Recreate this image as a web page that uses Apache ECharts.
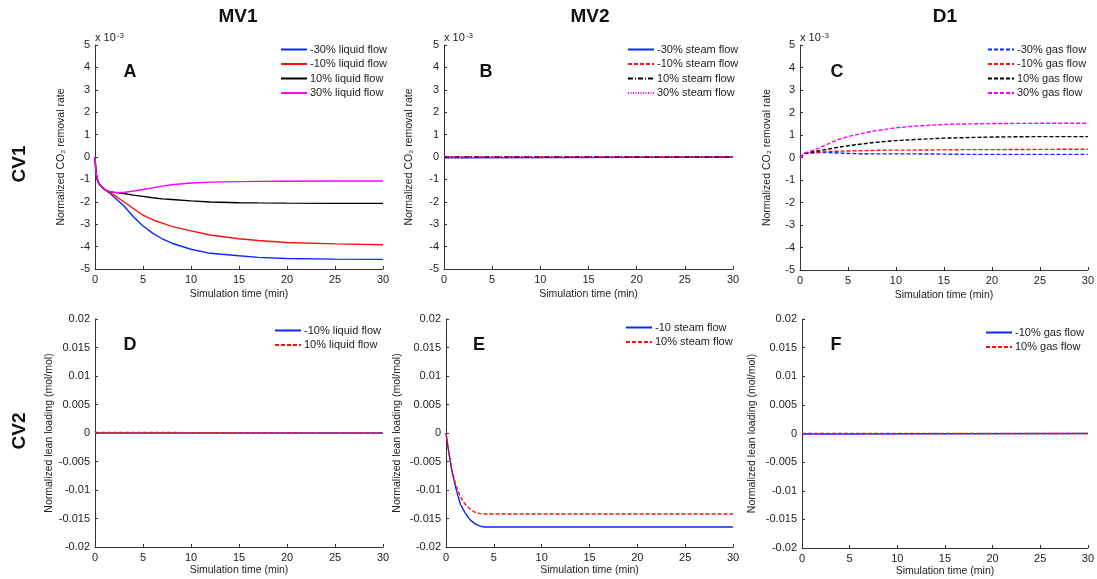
<!DOCTYPE html>
<html>
<head>
<meta charset="utf-8">
<script src="https://cdn.jsdelivr.net/npm/echarts@6/dist/echarts.min.js"></script>
<style>
  html, body { margin: 0; padding: 0; background: #fff; }
  #chart { width: 1097px; height: 579px; }
</style>
</head>
<body>
<div id="chart"></div>
<script>
  // panel A - MV1 / CV1 (x 10^-3)
  const timeA = [0, 0.1, 0.3, 0.5, 1, 1.5, 2, 3, 4, 5, 6, 7, 8, 10, 12, 15, 17, 20, 25, 30];
  const liqM30 = [0, -0.7, -1.1, -1.25, -1.45, -1.6, -1.8, -2.18, -2.67, -3.08, -3.4, -3.65, -3.85, -4.12, -4.3, -4.41, -4.48, -4.53, -4.56, -4.57];
  const liqM10 = [0, -0.7, -1.1, -1.25, -1.45, -1.58, -1.7, -2.0, -2.3, -2.6, -2.8, -2.95, -3.1, -3.3, -3.48, -3.65, -3.73, -3.82, -3.88, -3.92];
  const liqP10 = [0, -0.7, -1.1, -1.25, -1.45, -1.55, -1.58, -1.63, -1.7, -1.76, -1.82, -1.87, -1.9, -1.96, -2.01, -2.04, -2.05, -2.06, -2.07, -2.07];
  const liqP30 = [0, -0.7, -1.1, -1.25, -1.45, -1.55, -1.58, -1.58, -1.52, -1.45, -1.38, -1.3, -1.24, -1.16, -1.12, -1.1, -1.09, -1.08, -1.07, -1.07];

  // panel B - MV2 / CV1
  const timeB = [0, 3, 3.1, 30];
  const stmM30 = [-0.04, -0.04, 0, 0];
  const stmM10 = [0, 0, 0, 0];
  const stmP10 = [0, 0, 0, 0];
  const stmP30 = [0, 0, 0, 0];

  // panel C - D1 / CV1
  const timeC = [0, 0.5, 1, 2, 3, 4, 5, 6, 8, 10, 12, 15, 17, 20, 25, 30];
  const gasM30 = [0, 0.18, 0.2, 0.22, 0.22, 0.2, 0.18, 0.17, 0.16, 0.16, 0.16, 0.15, 0.14, 0.14, 0.14, 0.14];
  const gasM10 = [0, 0.17, 0.2, 0.24, 0.27, 0.28, 0.29, 0.3, 0.32, 0.33, 0.33, 0.34, 0.35, 0.35, 0.36, 0.37];
  const gasP10 = [0, 0.18, 0.23, 0.3, 0.38, 0.46, 0.52, 0.58, 0.68, 0.75, 0.8, 0.86, 0.88, 0.91, 0.93, 0.93];
  const gasP30 = [0, 0.2, 0.27, 0.42, 0.62, 0.8, 0.93, 1.03, 1.2, 1.32, 1.4, 1.47, 1.49, 1.51, 1.52, 1.52];

  // panel D - MV1 / CV2
  const timeD = [0, 1.7, 1.8, 30];
  const leanLiqM10 = [0, 0, 0, 0];
  const leanLiqP10 = [0.0001, 0.0001, 0, 0];

  // panel E - MV2 / CV2
  const timeE = [0, 0.3, 0.6, 1, 1.5, 2, 2.5, 3, 3.5, 4, 5, 10, 20, 30];
  const leanStmM10 = [0, -0.0035, -0.0065, -0.0095, -0.0125, -0.014, -0.0152, -0.0159, -0.0163, -0.0165, -0.0165, -0.0165, -0.0165, -0.0165];
  const leanStmP10 = [0, -0.0035, -0.0063, -0.009, -0.0112, -0.0125, -0.0133, -0.0139, -0.0141, -0.0142, -0.0142, -0.0142, -0.0142, -0.0142];

  // panel F - D1 / CV2
  const timeF = [0, 2.8, 2.9, 30];
  const leanGasM10 = [-0.0001, -0.0001, 0, 0];
  const leanGasP10 = [0, 0, 0, 0];

  const colTitles = ['MV1', 'MV2', 'D1'];
  const rowTitles = ['CV1', 'CV2'];
  const panelLetters = ['A', 'B', 'C', 'D', 'E', 'F'];

  const FONT = 'Liberation Sans, Arial, sans-serif';
  const BLUE = '#0a28ff', RED = '#ff1010', BLACK = '#000', MAGENTA = '#ff00ff';

  const grids = [
    {left: 95, top: 45, width: 288, height: 224},
    {left: 444, top: 45, width: 289, height: 224},
    {left: 800, top: 45, width: 288, height: 225},
    {left: 95, top: 319, width: 288, height: 228},
    {left: 446, top: 319, width: 287, height: 228},
    {left: 802, top: 319, width: 288, height: 229}
  ];

  function pairs(t, v) {
    return t.map((x, i) => [x, v[i]]);
  }

  function line(name, idx, t, v, color, type) {
    return {
      name,
      type: 'line',
      xAxisIndex: idx,
      yAxisIndex: idx,
      data: pairs(t, v),
      showSymbol: false,
      symbol: 'none',
      animation: false,
      lineStyle: {color, width: 1.4, type: type || 'solid'},
      itemStyle: {color}
    };
  }

  const DASH = [4, 2];
  const DASHDOT = [5, 2, 1, 2];
  const DOT = [1, 1.5];

  const series = [
    line('-30% liquid flow', 0, timeA, liqM30, BLUE),
    line('-10% liquid flow', 0, timeA, liqM10, RED),
    line('10% liquid flow', 0, timeA, liqP10, BLACK),
    line('30% liquid flow', 0, timeA, liqP30, MAGENTA),

    line('-30% steam flow', 1, timeB, stmM30, BLUE),
    line('-10% steam flow', 1, timeB, stmM10, RED, DASH),
    line('10% steam flow', 1, timeB, stmP10, BLACK, DASHDOT),
    line('30% steam flow', 1, timeB, stmP30, MAGENTA, DOT),

    line('-30% gas flow', 2, timeC, gasM30, BLUE, DASH),
    line('-10% gas flow', 2, timeC, gasM10, RED, DASH),
    line('10% gas flow', 2, timeC, gasP10, BLACK, DASH),
    line('30% gas flow', 2, timeC, gasP30, MAGENTA, DASH),

    // trailing space keeps legend names apart from panel A
    line('-10% liquid flow ', 3, timeD, leanLiqM10, BLUE),
    line('10% liquid flow ', 3, timeD, leanLiqP10, RED, DASH),

    line('-10 steam flow', 4, timeE, leanStmM10, BLUE),
    line('10% steam flow ', 4, timeE, leanStmP10, RED, DASH),

    line('-10% gas flow ', 5, timeF, leanGasM10, BLUE),
    line('10% gas flow ', 5, timeF, leanGasP10, RED, DASH)
  ];

  const axisCommon = {
    type: 'value',
    axisLine: {show: true, onZero: false, lineStyle: {color: '#333', width: 1}},
    axisTick: {show: true, inside: true, length: 3, lineStyle: {color: '#333'}},
    splitLine: {show: false},
    axisLabel: {color: '#222', fontSize: 11, fontFamily: FONT, margin: 5},
    nameLocation: 'middle',
    nameTextStyle: {color: '#222', fontSize: 10.5, fontFamily: FONT}
  };

  const xAxis = grids.map((g, i) => Object.assign({}, axisCommon, {
    gridIndex: i,
    min: 0,
    max: 30,
    interval: 5,
    name: 'Simulation time (min)',
    nameGap: i < 3 ? 20 : 18
  }));

  const yGaps = [28, 29, 27, 38, 43, 44];
  const yAxis = grids.map((g, i) => {
    const top = i < 3;
    return Object.assign({}, axisCommon, {
      gridIndex: i,
      min: top ? -5 : -0.02,
      max: top ? 5 : 0.02,
      interval: top ? 1 : 0.005,
      name: top ? 'Normalized CO₂ removal rate' : 'Normalized lean loading (mol/mol)',
      nameGap: yGaps[i],
      axisLabel: Object.assign({}, axisCommon.axisLabel, {
        formatter: v => String(parseFloat(v.toFixed(3)))
      })
    });
  });

  const legendPos = [
    {left: 280, top: 44}, {left: 627, top: 44}, {left: 987, top: 44},
    {left: 274, top: 325}, {left: 625, top: 322}, {left: 985, top: 327}
  ];
  const legendNames = [
    ['-30% liquid flow', '-10% liquid flow', '10% liquid flow', '30% liquid flow'],
    ['-30% steam flow', '-10% steam flow', '10% steam flow', '30% steam flow'],
    ['-30% gas flow', '-10% gas flow', '10% gas flow', '30% gas flow'],
    ['-10% liquid flow ', '10% liquid flow '],
    ['-10 steam flow', '10% steam flow '],
    ['-10% gas flow ', '10% gas flow ']
  ];
  const legend = legendPos.map((p, i) => ({
    data: legendNames[i],
    left: p.left,
    top: p.top,
    padding: 0,
    orient: 'vertical',
    itemWidth: 26,
    itemHeight: 10,
    itemGap: 3.5,
    selectedMode: false,
    // hide the circle marker, keep only the line sample
    itemStyle: {color: 'transparent', borderColor: 'transparent', borderWidth: 0, opacity: 0},
    textStyle: {fontSize: 11, fontFamily: FONT, color: '#222', padding: [0, 0, 0, -2]}
  }));

  const graphic = [];
  const colX = [238, 590, 945];
  colTitles.forEach((t, i) => graphic.push({
    type: 'text', x: colX[i], y: 17,
    style: {text: t, font: 'bold 19px ' + FONT, fill: '#111', align: 'center', verticalAlign: 'middle'}
  }));
  const rowY = [164, 431];
  rowTitles.forEach((t, i) => graphic.push({
    type: 'text', x: 20, y: rowY[i], rotation: Math.PI / 2,
    style: {text: t, font: 'bold 19px ' + FONT, fill: '#111', align: 'center', verticalAlign: 'middle'}
  }));
  const letterPos = [[130, 72], [486, 72], [837, 72], [130, 345], [479, 345], [836, 345]];
  panelLetters.forEach((t, i) => graphic.push({
    type: 'text', x: letterPos[i][0], y: letterPos[i][1],
    style: {text: t, font: 'bold 18px ' + FONT, fill: '#111', align: 'center', verticalAlign: 'middle'}
  }));
  // exponent label above the CV1 axes
  [95, 444, 800].forEach(x => graphic.push({
    type: 'text', x: x, y: 32,
    style: {
      text: '{b|x 10}{s|-3}',
      rich: {
        b: {font: '11px ' + FONT, fill: '#222', verticalAlign: 'bottom'},
        s: {font: '8px ' + FONT, fill: '#222', verticalAlign: 'top', padding: [0, 0, 0, 1]}
      }
    }
  }));

  const chart = echarts.init(document.getElementById('chart'), null, {renderer: 'canvas'});
  chart.setOption({
    backgroundColor: '#fff',
    animation: false,
    grid: grids,
    xAxis,
    yAxis,
    legend,
    graphic,
    series
  });
</script>
</body>
</html>
